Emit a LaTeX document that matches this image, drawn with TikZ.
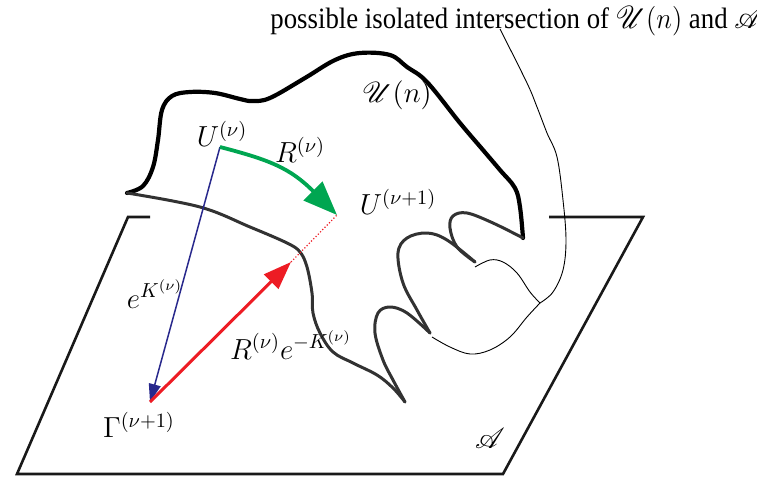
\RequirePackage{fix-cm}
\documentclass[tikz,border=0pt]{standalone}
\usepackage{graphicx}
\usepackage{fontspec}
\setmainfont{Liberation Serif}
\usepackage{mathrsfs}
\usetikzlibrary{arrows.meta}
\definecolor{arrgreen}{RGB}{0,166,81}
\definecolor{arrred}{RGB}{237,28,36}
\definecolor{arrblue}{RGB}{40,40,140}
\definecolor{outgray}{RGB}{50,50,50}
\begin{document}
\begin{tikzpicture}[x=0.5pt,y=-0.5pt,
  outtop/.style={line width=2.1pt,black,line cap=round,line join=round},
  outlow/.style={line width=1.5pt,outgray,line cap=round,line join=round},
  thinln/.style={line width=0.45pt,black},
  planeln/.style={line width=1.3pt,black!90,line join=miter},
  lbl/.style={font=\fontsize{14.5}{17}\selectfont,inner sep=0pt},
  toplbl/.style={font=\fontsize{13.4}{16}\selectfont,inner sep=0pt}]
\useasboundingbox (0,0) rectangle (757,482);
% plane A
\coordinate (p1) at (128,217);
\coordinate (p2) at (17,474);
\coordinate (p3) at (503,474);
\coordinate (p4) at (643,217);
\draw[planeln] (150,217) -- (p1) -- (p2) -- (p3) -- (p4) -- (549,217);
% outline of U(n)
\draw[outtop] plot[smooth,tension=0.6] coordinates {(127,193) (143,186) (153,167) (158,140) (162,110) (172,96) (190,92) (215,93) (240,99) (252,101) (270,98) (305,78) (335,60) (360,53) (390,55) (407,67) (427,82) (460,123) (483,150) (500,170) (515,188) (520,207) (523,238)};
\draw[outlow] plot[smooth,tension=0.6] coordinates {(523,238) (493,223) (467,213) (453,216) (450,228) (457,247) (475,262)};
\draw[outlow] plot[smooth,tension=0.6] coordinates {(475,262) (447,240) (427,233) (407,238) (398,253) (403,283) (417,310) (430,333)};
\draw[outlow] plot[smooth,tension=0.6] coordinates {(430,333) (407,313) (390,307) (378,313) (375,333) (383,360) (393,380) (405,402)};
\draw[outlow] plot[smooth,tension=0.6] coordinates {(127,193) (200,207) (250,227) (287,243) (300,252) (307,267) (312,293) (313,313) (320,333) (333,352) (353,363) (377,375) (393,388) (405,402)};
% thin intersection curves
\coordinate (jn) at (540,303);
\coordinate (lt) at (500,29);
\draw[thinln] plot[smooth,tension=0.6] coordinates {(475,267) (490,260) (503,262) (517,273) (530,292) (540,303)};
\draw[thinln] plot[smooth,tension=0.6] coordinates {(432,337) (450,347) (470,354) (490,350) (510,337) (527,317) (540,303)};
\draw[thinln] plot[smooth,tension=0.6] coordinates {(540,303) (553,292) (563,270) (566,240) (563,200) (557,157) (547,133) (537,107) (527,83) (500,29)};
% points
\coordinate (Unu) at (220,147);
\coordinate (Unu1) at (337,215);
\coordinate (Gam) at (150,402);
\coordinate (Mid) at (291,262);
% arrows
\draw[arrblue,line width=0.75pt,-{Triangle[length=9pt,width=6pt]}] (Unu) -- (Gam);
\draw[arrgreen,line width=1.9pt,-{Triangle[length=17pt,width=13pt]}] (Unu) .. controls (270,160) and (290,168) .. (Unu1);
\draw[arrred,line width=1.5pt,-{Triangle[length=14pt,width=10pt]}] (Gam) -- (Mid);
\draw[arrred,line width=0.6pt,densely dotted] (Mid) -- (Unu1);
% labels
\node[lbl] (lU) at (222,134) {$U^{(\nu)}$};
\node[lbl] (lR) at (300,150) {$R^{(\nu)}$};
\node[lbl] (lU1) at (398,202) {$U^{(\nu+1)}$};
\node[lbl] (lUn) at (397,95) {$\mathscr{U}(n)$};
\node[lbl] (lK) at (155,294) {$e^{K^{(\nu)}}$};
\node[lbl] (lRK) at (291,345) {$R^{(\nu)}e^{-K^{(\nu)}}$};
\node[lbl] (lG) at (139,425) {$\Gamma^{(\nu+1)}$};
\node[lbl] (lA) at (490,438) {$\mathscr{A}$};
\node[toplbl,anchor=base west] (ltop) at (270,28) {\scalebox{1}[1.1]{possible isolated intersection of $\mathscr{U}(n)$ and $\mathscr{A}$}};
\end{tikzpicture}
\end{document}
